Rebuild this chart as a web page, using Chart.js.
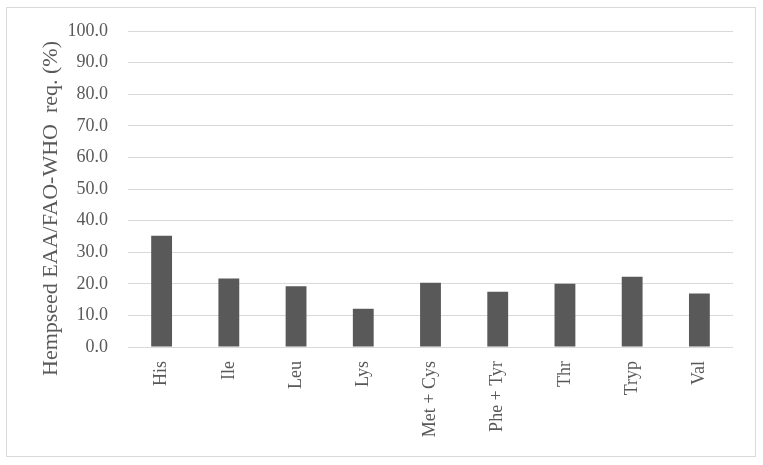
<!DOCTYPE html>
<html>
<head>
<meta charset="utf-8">
<script src="https://cdn.jsdelivr.net/npm/chart.js@4.4.0/dist/chart.umd.min.js"></script>
<style>
html,body{margin:0;padding:0;background:#fff;}
#wrap{width:763px;height:465px;position:relative;}
</style>
</head>
<body>
<div id="wrap"><canvas id="c"></canvas></div>
<script>
const categories = ["His", "Ile", "Leu", "Lys", "Met + Cys", "Phe + Tyr", "Thr", "Tryp", "Val"];
const values = [35.2, 21.7, 19.2, 12.1, 20.3, 17.5, 20.0, 22.2, 16.9];
const yTitle = "Hempseed EAA/FAO-WHO  req. (%)";
const yMin = 0, yMax = 100, yStep = 10;

const grey = "#595959";
const serif = "'Liberation Serif', 'DejaVu Serif', serif";

const frame = {
  id: 'frame',
  beforeDraw(chart) {
    const ctx = chart.ctx;
    ctx.save();
    ctx.fillStyle = '#ffffff';
    ctx.fillRect(0, 0, chart.width, chart.height);
    ctx.strokeStyle = '#d9d9d9';
    ctx.lineWidth = 1;
    ctx.strokeRect(6.5, 7.5, 749, 449);
    ctx.restore();
  },
  afterDraw(chart, args, opts) {
    const ctx = chart.ctx;
    ctx.save();
    ctx.translate(57, 208.5);
    ctx.rotate(-Math.PI / 2);
    ctx.font = "22px " + serif;
    ctx.fillStyle = grey;
    ctx.textAlign = 'center';
    ctx.textBaseline = 'alphabetic';
    ctx.fillText(opts.text, 0, 0);
    ctx.restore();
  }
};

new Chart(document.getElementById('c'), {
  type: 'bar',
  data: {
    labels: categories,
    datasets: [{
      data: values,
      backgroundColor: grey,
      borderWidth: 0,
      barPercentage: 0.31,
      categoryPercentage: 1.0
    }]
  },
  options: {
    responsive: true,
    maintainAspectRatio: false,
    animation: false,
    layout: { padding: { left: 0, top: 31, right: 30, bottom: 0 } },
    plugins: {
      legend: { display: false },
      tooltip: { enabled: false },
      frame: { text: yTitle }
    },
    scales: {
      x: {
        grid: { display: false, drawTicks: false },
        border: { display: false },
        ticks: {
          color: grey,
          font: { family: serif, size: 18 },
          minRotation: 90,
          maxRotation: 90,
          padding: 14,
          autoSkip: false
        },
        afterFit(scale) { scale.height = 118; }
      },
      y: {
        min: yMin,
        max: yMax,
        grid: { color: '#d9d9d9', lineWidth: 1, drawTicks: false },
        border: { display: false },
        ticks: {
          stepSize: yStep,
          color: grey,
          font: { family: serif, size: 18 },
          padding: 20,
          callback: v => Number(v).toFixed(1)
        },
        afterFit(scale) { scale.width = 128; }
      }
    }
  },
  plugins: [frame]
});
</script>
</body>
</html>
